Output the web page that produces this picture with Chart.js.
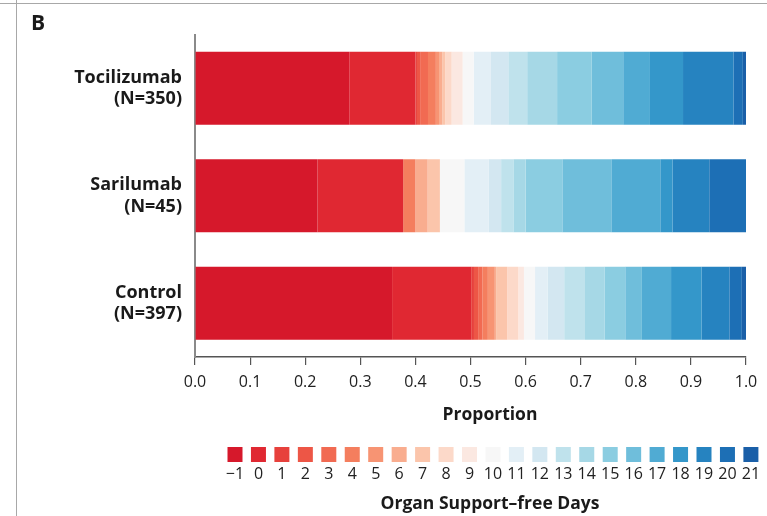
<!DOCTYPE html>
<html>
<head>
<meta charset="utf-8">
<script src="https://cdn.jsdelivr.net/npm/chart.js@4"></script>
<style>
  html, body { margin: 0; padding: 0; background: #fff; }
  #wrap { position: relative; width: 767px; height: 516px; overflow: hidden; }
  #frameTop { position: absolute; left: 0; top: 3px; width: 767px; height: 0; border-top: 1px solid #a8a8a8; }
  #frameLeft { position: absolute; left: 16px; top: 0; width: 0; height: 516px; border-left: 1px solid #a8a8a8; }
  #panel { position: absolute; left: 31px; top: 8px; font: bold 21px "Open Sans", sans-serif; color: #1a1a1a; }
  canvas { position: absolute; left: 0; top: 0; }
</style>
</head>
<body>
<div id="wrap">
  <canvas id="c" width="767" height="516"></canvas>
  <div id="frameTop"></div>
  <div id="frameLeft"></div>
  <div id="panel">B</div>
</div>
<script>
// Organ support-free days (−1 = death), one stacked segment per day value
const days = [-1, 0, 1, 2, 3, 4, 5, 6, 7, 8, 9, 10, 11, 12, 13, 14, 15, 16, 17, 18, 19, 20, 21];
const dayLabels = days.map(d => (d < 0 ? '\u2212' + Math.abs(d) : String(d)));

const groups = ['Tocilizumab', 'Sarilumab', 'Control'];
const groupN = [350, 45, 397];

// patients per day value
const tocilizumabCounts = [98, 42, 1, 2, 5, 5, 2, 2, 2, 4, 7, 7, 11, 11, 12, 19, 22, 20, 17, 21, 32, 6, 2];
const sarilumabCounts   = [10, 7, 0, 0, 0, 1, 0, 1, 1, 0, 0, 2, 2, 1, 1, 1, 3, 4, 4, 1, 3, 3, 0];
const controlCounts     = [142, 57, 2, 3, 3, 4, 5, 1, 8, 8, 4, 8, 9, 12, 15, 14, 15, 12, 21, 22, 20, 9, 3];

const dayColors = [
  '#d6182b', '#e02832', '#e7413c', '#ed5646', '#f16a52', '#f47e5e', '#f79473', '#f9ad8f',
  '#fbc5ab', '#fcd9c9', '#fbe8e1', '#f7f7f7', '#e3eff6', '#d3e7f1', '#bfe2ec', '#a6d8e6',
  '#8bcde1', '#6fbedb', '#50abd3', '#3497ca', '#2683c0', '#1d6fb5', '#1a5fa8'
];

const axisTitle = 'Proportion';
const legendTitle = 'Organ Support\u2013free Days';

const groupCounts = [tocilizumabCounts, sarilumabCounts, controlCounts];
const yLabels = groups.map((g, i) => [g, '(N=' + groupN[i] + ')']);

const datasets = days.map((d, k) => ({
  label: dayLabels[k],
  data: groupCounts.map((counts, g) => counts[k] / groupN[g]),
  backgroundColor: dayColors[k],
  borderWidth: 0,
  barPercentage: 0.68,
  categoryPercentage: 1.0
}));

// axis title plus legend: colour squares with the day value beneath, and a title line
const dayLegend = {
  id: 'dayLegend',
  afterDraw(chart) {
    const ctx = chart.ctx;
    const sets = chart.data.datasets;
    const x0 = 235, step = 23.45, size = 15, top = 447;
    ctx.save();
    ctx.textAlign = 'center';
    ctx.textBaseline = 'middle';
    ctx.fillStyle = '#1a1a1a';
    ctx.font = 'bold 17.5px "Open Sans", sans-serif';
    ctx.fillText(axisTitle, 490, 415);
    ctx.font = '16px "Open Sans", sans-serif';
    sets.forEach((ds, i) => {
      const cx = x0 + i * step;
      ctx.fillStyle = ds.backgroundColor;
      ctx.fillRect(cx - size / 2, top, size, size);
      ctx.fillStyle = '#222';
      ctx.fillText(ds.label, cx, 474);
    });
    ctx.fillStyle = '#1a1a1a';
    ctx.font = 'bold 17.5px "Open Sans", sans-serif';
    ctx.fillText(legendTitle, 490, 504);
    ctx.restore();
  }
};

new Chart(document.getElementById('c'), {
  type: 'bar',
  data: { labels: yLabels, datasets },
  options: {
    indexAxis: 'y',
    responsive: false,
    animation: false,
    layout: { padding: { left: 0, top: 33, right: 21, bottom: 91 } },
    plugins: { legend: { display: false }, tooltip: { enabled: false } },
    scales: {
      x: {
        stacked: true,
        min: 0,
        max: 1,
        afterFit(s) { s.height = 68; },
        ticks: {
          stepSize: 0.1,
          callback: v => Number(v).toFixed(1),
          font: { family: 'Open Sans', size: 16 },
          color: '#222',
          padding: 8
        },
        grid: { drawOnChartArea: false, drawTicks: true, tickLength: 8, color: '#555', lineWidth: 1.2 },
        border: { display: true, color: '#555', width: 1.5 },
        title: { display: false }
      },
      y: {
        stacked: true,
        afterFit(s) { s.width = 195; },
        grid: { display: false, drawTicks: false },
        border: { display: true, color: '#8a8a8a', width: 2 },
        ticks: {
          font: { family: 'Open Sans', size: 18, weight: 'bold' },
          color: '#1a1a1a',
          padding: 13
        }
      }
    }
  },
  plugins: [dayLegend]
});
</script>
</body>
</html>
